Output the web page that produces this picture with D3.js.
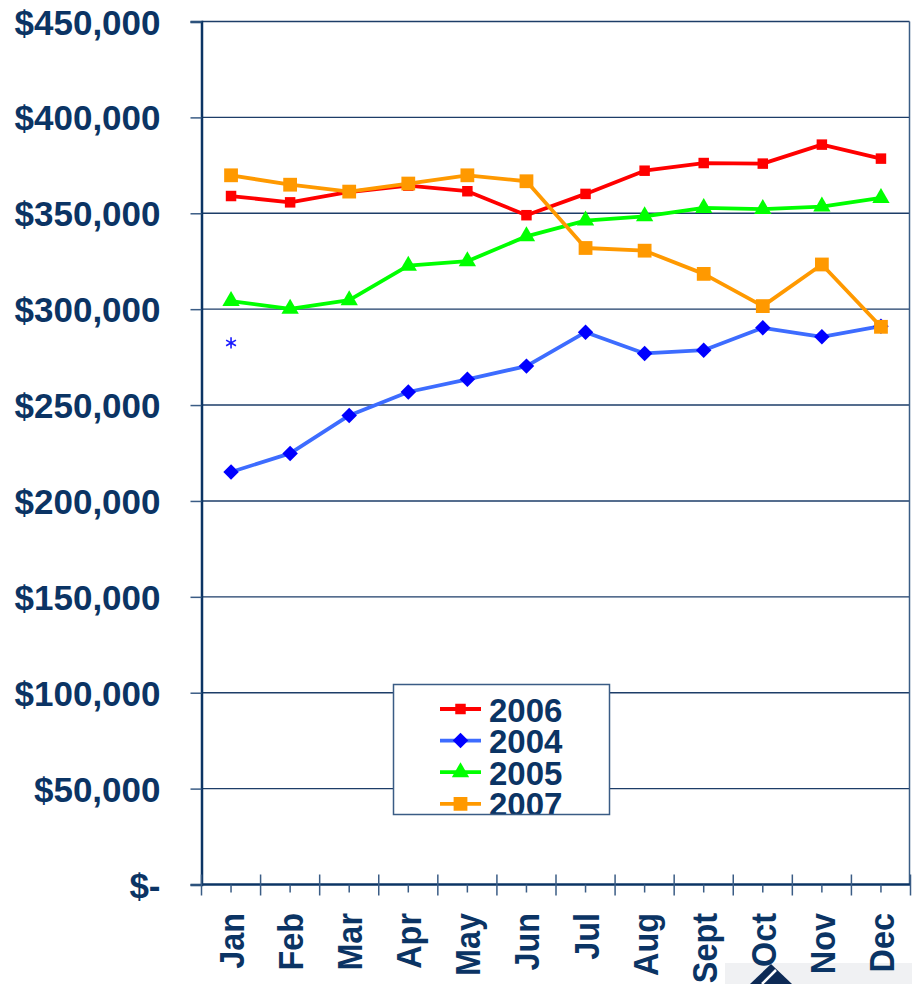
<!DOCTYPE html>
<html>
<head>
<meta charset="utf-8">
<script src="https://cdn.jsdelivr.net/npm/d3@7"></script>
<style>
  html, body { margin: 0; padding: 0; background: #ffffff; }
  svg { display: block; }
</style>
</head>
<body>
<svg id="chart" width="912" height="984"></svg>
<script>
// ---- data ----
const months = ["Jan","Feb","Mar","Apr","May","Jun","Jul","Aug","Sept","Oct","Nov","Dec"];
const yTicks = [0, 50000, 100000, 150000, 200000, 250000, 300000, 350000, 400000, 450000];
const values2006 = [359000, 355700, 361100, 364400, 361500, 349000, 360100, 372200, 376200, 375900, 385800, 378500];
const values2004 = [215100, 224800, 244600, 256800, 263400, 270300, 288000, 276900, 278600, 290300, 285600, 291100];
const values2005 = [304200, 300200, 304700, 322700, 325000, 338000, 346200, 348400, 352800, 352200, 353500, 358000];
const values2007 = [369800, 364900, 361300, 365500, 369800, 366700, 331900, 330500, 318400, 301600, 323300, 290800];
const strayMonths = ["Jan"];
const strayValues = [282400];
const legendNames = ["2006", "2004", "2005", "2007"];

const navy = "#0b3464";
const svg = d3.select("#chart");

const x = d3.scaleBand().domain(months).range([201.5, 910.5]).paddingInner(0).paddingOuter(0);
const y = d3.scaleLinear().domain([0, 450000]).range([884.5, 21.5]);
const cx = m => x(m) + x.bandwidth() / 2;

// logo fragment bottom right (behind labels)
svg.append("rect").attr("x", 725).attr("y", 963).attr("width", 187).attr("height", 21).attr("fill", "#f0f1f3");
svg.append("path").attr("d", "M750,984 L771,964 L792,984 Z").attr("fill", "#0d2a55");
svg.append("path").attr("d", "M762,984 L776,970").attr("stroke", "#ffffff").attr("stroke-width", 2.5);

// gridlines
svg.append("g").selectAll("line").data(yTicks.filter(t => t > 0)).join("line")
  .attr("x1", 201.5).attr("x2", 909.5)
  .attr("y1", d => y(d)).attr("y2", d => y(d))
  .attr("stroke", "#1d3d68").attr("stroke-width", 1.4);

// right border
svg.append("line").attr("x1", 909.5).attr("x2", 909.5).attr("y1", y(450000)).attr("y2", y(0))
  .attr("stroke", "#3a5c85").attr("stroke-width", 1.5);

// y axis
const yAxis = d3.axisLeft(y).tickValues(yTicks).tickSize(11).tickPadding(30)
  .tickFormat(d => d === 0 ? "$-" : "$" + d3.format(",")(d));
const gy = svg.append("g").attr("transform", "translate(201.5,0)").call(yAxis);
gy.select(".domain").attr("stroke", navy).attr("stroke-width", 2.5);
gy.selectAll(".tick line").attr("stroke", "#3a5c85").attr("stroke-width", 1.5);
gy.selectAll(".tick text")
  .attr("fill", navy).attr("font-family", "'Liberation Sans', Arial, sans-serif")
  .attr("font-weight", "bold").attr("font-size", 35).attr("dy", "0.36em");

// x axis
const gx = svg.append("g").attr("transform", "translate(0,884.5)");
gx.append("line").attr("x1", 201.5).attr("x2", 910.5).attr("y1", 0).attr("y2", 0)
  .attr("stroke", navy).attr("stroke-width", 2.5);
const bounds = months.map(m => x(m)).concat([x.range()[1]]);
gx.selectAll("line.major").data(bounds).join("line").attr("class", "major")
  .attr("x1", d => d).attr("x2", d => d).attr("y1", -10).attr("y2", 11)
  .attr("stroke", "#3a5c85").attr("stroke-width", 1.5);
gx.selectAll("line.minor").data(months).join("line").attr("class", "minor")
  .attr("x1", d => cx(d)).attr("x2", d => cx(d)).attr("y1", 0).attr("y2", 8)
  .attr("stroke", "#3a5c85").attr("stroke-width", 1.5);

gx.selectAll("text").data(months).join("text")
  .attr("transform", d => `translate(${cx(d)},28.5) rotate(-90) scale(0.9,1)`)
  .attr("text-anchor", "end").attr("dy", "0.36em")
  .attr("fill", navy).attr("font-family", "'Liberation Sans', Arial, sans-serif")
  .attr("font-weight", "bold").attr("font-size", 36)
  .text(d => d);

// series
const series = [
  { name: "2006", values: values2006, line: "#ff0000", mark: "#ff0000", sym: d3.symbolSquare, size: 110, rot: 0 },
  { name: "2004", values: values2004, line: "#3d6cff", mark: "#0000ff", sym: d3.symbolSquare, size: 120, rot: 45 },
  { name: "2005", values: values2005, line: "#00ff00", mark: "#00ff00", sym: d3.symbolTriangle, size: 130, rot: 0 },
  { name: "2007", values: values2007, line: "#ff9900", mark: "#ff9900", sym: d3.symbolSquare, size: 190, rot: 0 }
];
const lineGen = d3.line().x(d => cx(d.m)).y(d => y(d.v));
series.forEach(s => {
  const pts = months.map((m, i) => ({ m, v: s.values[i] }));
  const g = svg.append("g");
  g.append("path").datum(pts).attr("d", lineGen).attr("fill", "none")
    .attr("stroke", s.line).attr("stroke-width", 3.8).attr("stroke-linejoin", "round");
  g.selectAll("path.mk").data(pts).join("path").attr("class", "mk")
    .attr("d", d3.symbol().type(s.sym).size(s.size))
    .attr("transform", d => `translate(${cx(d.m)},${y(d.v)}) rotate(${s.rot})`)
    .attr("fill", s.mark);
});

// stray marker
svg.append("g").selectAll("path").data(strayMonths.map((m, i) => ({ m, v: strayValues[i] }))).join("path")
  .attr("d", d3.symbol().type(d3.symbolAsterisk).size(90))
  .attr("transform", d => `translate(${cx(d.m)},${y(d.v)})`)
  .attr("fill", "none").attr("stroke", "#1a1aff").attr("stroke-width", 1.6);

// legend
const lg = svg.append("g");
const box = { x: 393.5, y: 684.5, w: 216, h: 130 };
svg.append("clipPath").attr("id", "lgclip").append("rect")
  .attr("x", box.x).attr("y", box.y).attr("width", box.w).attr("height", box.h);
lg.append("rect").attr("x", box.x).attr("y", box.y).attr("width", box.w).attr("height", box.h)
  .attr("fill", "#ffffff");
const lgIn = lg.append("g").attr("clip-path", "url(#lgclip)");
const legendOrder = legendNames.map(n => series.find(s => s.name === n));
legendOrder.forEach((s, i) => {
  const cy = 709 + i * 31.6;
  lgIn.append("line").attr("x1", 440).attr("x2", 481).attr("y1", cy).attr("y2", cy)
    .attr("stroke", s.line).attr("stroke-width", 3.8);
  lgIn.append("path").attr("d", d3.symbol().type(s.sym).size(s.size))
    .attr("transform", `translate(460.5,${cy}) rotate(${s.rot})`).attr("fill", s.mark);
  lgIn.append("text").attr("x", 489).attr("y", cy + 12.5)
    .attr("fill", navy).attr("font-family", "'Liberation Sans', Arial, sans-serif")
    .attr("font-weight", "bold").attr("font-size", 33).text(s.name);
});
lg.append("rect").attr("x", box.x).attr("y", box.y).attr("width", box.w).attr("height", box.h)
  .attr("fill", "none").attr("stroke", "#3a5c85").attr("stroke-width", 1.5);
</script>
</body>
</html>
